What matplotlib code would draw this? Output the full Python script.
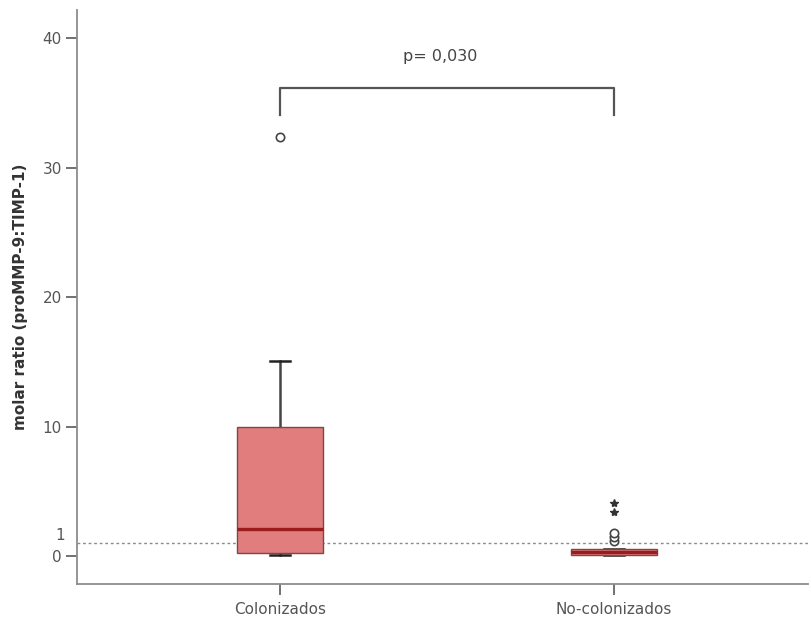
import matplotlib
matplotlib.use("Agg")
import matplotlib.pyplot as plt

# Groups and box statistics (molar ratio proMMP-9:TIMP-1)
groups = ["Colonizados", "No-colonizados"]
q1 = [0.23, 0.08]
median = [2.1, 0.30]
q3 = [10.0, 0.58]
whisker_low = [0.08, 0.10]
whisker_high = [15.1, 0.55]
outliers = [[32.4], [1.2, 1.5, 1.8]]
extremes = [[], [3.4, 4.1]]

reference_level = 1
p_text = "p= 0,030"
bracket_low, bracket_high = 34.1, 36.2

yticks = [0, 10, 20, 30, 40]

fig = plt.figure(figsize=(8.11, 6.26), dpi=100)
ax = fig.add_axes([77 / 811, 1 - 584 / 626, (808 - 77) / 811, (584 - 10) / 626])

positions = [1, 2]
stats = []
for i, g in enumerate(groups):
    stats.append(dict(label=g, q1=q1[i], med=median[i], q3=q3[i],
                      whislo=whisker_low[i], whishi=whisker_high[i],
                      fliers=outliers[i]))

face = "#E17D7D"
edge = "#7E4646"
ax.bxp(stats, positions=positions, widths=0.255, patch_artist=True,
       boxprops=dict(facecolor=face, edgecolor=edge, linewidth=1.0, zorder=2),
       medianprops=dict(color="#9B1C1C", linewidth=2.4, zorder=3),
       whiskerprops=dict(color="#444444", linewidth=1.8, zorder=1.5),
       capprops=dict(color="#222222", linewidth=1.8, zorder=1.5),
       capwidths=0.06,
       flierprops=dict(marker="o", markerfacecolor="white",
                       markeredgecolor="#444444", markersize=6,
                       markeredgewidth=1.2))

for pos, ext in zip(positions, extremes):
    if ext:
        ax.plot([pos] * len(ext), ext, linestyle="none", marker="*",
                color="#333333", markersize=6)

# dotted reference line at ratio 1
ax.axhline(reference_level, color="#8a8a8a", linestyle=(0, (2, 2)),
           linewidth=1.0, zorder=0.5)

# significance bracket
ax.plot([positions[0], positions[0], positions[1], positions[1]],
        [bracket_low, bracket_high, bracket_high, bracket_low],
        color="#555555", linewidth=1.6)
ax.text(sum(positions) / 2 - 0.02, 38.6, p_text, ha="center", va="center",
        fontsize=11.5, color="#444444")

ax.set_xlim(0.392, 2.581)
ax.set_ylim(-2.16, 42.2)
ax.set_xticks(positions)
ax.set_xticklabels(groups)
ax.set_yticks(yticks)
ax.set_yticklabels([str(t) for t in yticks])
ax.text(-0.016, reference_level + 0.55, str(reference_level),
        transform=ax.get_yaxis_transform(), ha="right", va="center",
        fontsize=11, color="#555555")

for s in ["top", "right"]:
    ax.spines[s].set_visible(False)
for s in ["left", "bottom"]:
    ax.spines[s].set_color("#8c8c8c")
    ax.spines[s].set_linewidth(1.3)

ax.tick_params(axis="both", colors="#666666", labelsize=11, length=8,
               width=1.3, labelcolor="#555555")
ax.tick_params(axis="x", pad=5)
ax.tick_params(axis="y", pad=3)

ax.set_ylabel("molar ratio (proMMP-9:TIMP-1)", fontsize=11,
              fontweight="bold", color="#333333", labelpad=10)

fig.savefig("out.png", dpi=100)
